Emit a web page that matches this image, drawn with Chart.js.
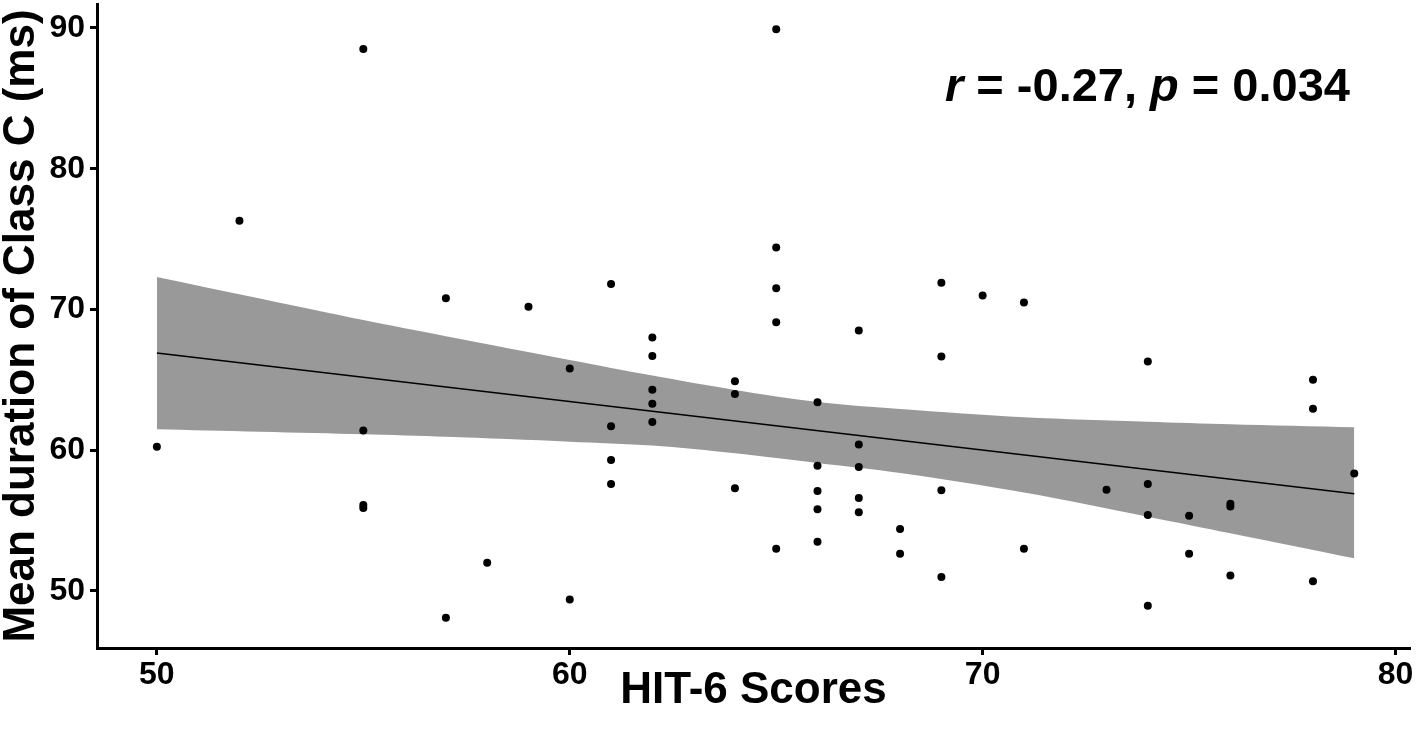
<!DOCTYPE html>
<html>
<head>
<meta charset="utf-8">
<script src="https://cdn.jsdelivr.net/npm/chart.js@4"></script>
<style>
html,body{margin:0;padding:0;background:#fff;}
#wrap{width:1416px;height:731px;position:relative;}
</style>
</head>
<body>
<div id="wrap"><canvas id="c" width="1416" height="731"></canvas></div>
<script>
// ---- data ----
const hitScores = [
  50, 52,
  55, 55, 55, 55,
  57, 57, 58, 59,
  60, 60,
  61, 61, 61, 61,
  62, 62, 62, 62, 62,
  64, 64, 64,
  65, 65, 65, 65, 65,
  66, 66, 66, 66, 66,
  67, 67, 67, 67, 67,
  68, 68,
  69, 69, 69, 69,
  70, 71, 71, 73,
  74, 74, 74, 74,
  75, 75,
  76, 76, 76,
  78, 78, 78,
  79
];
const classCDuration = [
  60.25, 76.3,
  88.5, 61.4, 56.1, 55.9,
  70.8, 48.1, 52.0, 70.2,
  65.8, 49.4,
  71.8, 61.7, 59.3, 57.6,
  68.0, 66.7, 64.3, 63.3, 62.0,
  64.9, 64.0, 57.3,
  89.9, 74.4, 71.5, 69.1, 53.0,
  63.4, 58.9, 57.1, 55.8, 53.5,
  68.5, 60.4, 58.8, 56.6, 55.6,
  54.4, 52.65,
  71.9, 66.65, 57.15, 51.0,
  71.0, 70.5, 53.0, 57.2,
  66.3, 57.6, 55.4, 48.95,
  55.35, 52.65,
  56.2, 56.0, 51.1,
  65.0, 62.95, 50.7,
  58.35
];
const fitX = [50, 79];
const fitY = [66.9, 56.9];
const bandX     = [50,    55,    57,    60,    62,    64,    66,    68,    71,    74,    76,    79];
const bandUpper = [72.31, 69.25, 68.10, 66.41, 65.30, 64.28, 63.43, 62.93, 62.35, 62.03, 61.85, 61.63];
const bandLower = [61.49, 61.13, 60.95, 60.61, 60.33, 59.78, 59.09, 58.38, 57.00, 55.28, 54.10, 52.32];
const xTicks = [50, 60, 70, 80];
const yTicks = [50, 60, 70, 80, 90];
const xTitle = 'HIT-6 Scores';
const yTitle = 'Mean duration of Class C (ms)';
const statParts = [
  {text: 'r', italic: true},
  {text: ' = -0.27, ', italic: false},
  {text: 'p', italic: true},
  {text: ' = 0.034', italic: false}
];

const FONT = '"Liberation Sans", Arial, Helvetica, sans-serif';
const toXY = (xs, ys) => xs.map((x, i) => ({x: x, y: ys[i]}));

const statPlugin = {
  id: 'statText',
  afterDraw(chart) {
    const ctx = chart.ctx;
    ctx.save();
    ctx.fillStyle = '#000';
    ctx.textBaseline = 'alphabetic';
    ctx.textAlign = 'left';
    let x = 945;
    const y = 101;
    statParts.forEach(p => {
      ctx.font = (p.italic ? 'italic ' : '') + 'bold 47px ' + FONT;
      ctx.fillText(p.text, x, y);
      x += ctx.measureText(p.text).width;
    });
    ctx.restore();
  }
};

new Chart(document.getElementById('c'), {
  data: {
    datasets: [
      {
        type: 'scatter',
        data: toXY(hitScores, classCDuration),
        backgroundColor: '#000',
        borderColor: '#000',
        pointRadius: 4,
        borderWidth: 0,
        order: 0
      },
      {
        type: 'line',
        data: toXY(fitX, fitY),
        borderColor: '#000',
        borderWidth: 1.5,
        pointRadius: 0,
        fill: false,
        order: 1
      },
      {
        type: 'line',
        data: toXY(bandX, bandUpper),
        borderWidth: 0,
        borderColor: 'rgba(0,0,0,0)',
        backgroundColor: '#999999',
        pointRadius: 0,
        tension: 0.3,
        fill: '+1',
        order: 2
      },
      {
        type: 'line',
        data: toXY(bandX, bandLower),
        borderWidth: 0,
        borderColor: 'rgba(0,0,0,0)',
        backgroundColor: '#999999',
        pointRadius: 0,
        tension: 0.3,
        fill: false,
        order: 3
      }
    ]
  },
  options: {
    responsive: false,
    animation: false,
    devicePixelRatio: 1,
    layout: {padding: {left: 0, right: 6, top: 0, bottom: 0}},
    plugins: {legend: {display: false}, tooltip: {enabled: false}},
    scales: {
      x: {
        type: 'linear',
        min: 48.55,
        max: 80.35,
        afterBuildTicks: s => { s.ticks = xTicks.map(v => ({value: v})); },
        afterFit: s => { s.height = 83; s.paddingLeft = 0; s.paddingRight = 0; },
        ticks: {
          font: {family: FONT, size: 32, weight: 'bold'},
          color: '#000',
          padding: 1,
          maxRotation: 0,
          autoSkip: false
        },
        grid: {drawOnChartArea: false, drawTicks: true, tickLength: 7, tickWidth: 3, tickColor: '#000'},
        border: {display: true, color: '#000', width: 3},
        title: {
          display: true,
          text: xTitle,
          color: '#000',
          font: {family: FONT, size: 44, weight: 'bold', lineHeight: 1.2},
          padding: {top: 0, bottom: 14}
        }
      },
      y: {
        type: 'linear',
        min: 45.95,
        max: 91.7,
        afterBuildTicks: s => { s.ticks = yTicks.map(v => ({value: v})); },
        afterFit: s => { s.width = 97; s.paddingTop = 0; s.paddingBottom = 0; },
        ticks: {
          font: {family: FONT, size: 32, weight: 'bold'},
          color: '#000',
          padding: 5,
          autoSkip: false
        },
        grid: {drawOnChartArea: false, drawTicks: true, tickLength: 7, tickWidth: 3, tickColor: '#000'},
        border: {display: true, color: '#000', width: 3},
        title: {
          display: true,
          text: yTitle,
          color: '#000',
          font: {family: FONT, size: 44, weight: 'bold', lineHeight: 1.0},
          padding: {top: 0, bottom: 0}
        }
      }
    }
  },
  plugins: [statPlugin]
});
</script>
</body>
</html>
